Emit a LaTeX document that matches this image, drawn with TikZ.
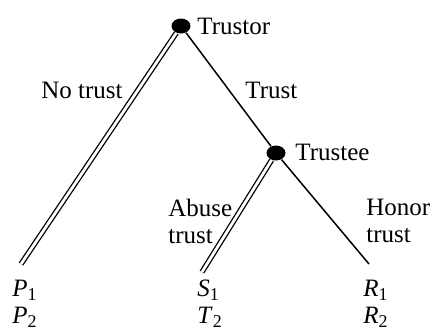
\documentclass[tikz,border=0pt]{standalone}
\usepackage{fontspec}
\setmainfont{Liberation Serif}
\usepackage{tikz}
\usetikzlibrary{shapes.geometric}
\tikzset{
  move dot/.style={
    ellipse,
    fill=black,
    inner sep=0pt,
    minimum width=9.5pt,
    minimum height=7.5pt
  },
  single move/.style={
    line width=0.75pt
  },
  double move/.style={
    double,
    line width=0.65pt,
    double distance=1.4pt
  },
  move label/.style={
    inner sep=0pt,
    font=\fontsize{12.5}{13.5}\selectfont
  },
  payoff label/.style={
    move label,
    align=left,
    anchor=north west
  }
}
\newcommand{\pay}[2]{\textit{#1}\raisebox{-0.35ex}{\fontsize{9}{9}\selectfont #2}}

\begin{document}
\begin{tikzpicture}[x=0.5pt, y=-0.5pt]
  \useasboundingbox (0,0) rectangle (434,334);

  %% ---- decision nodes ----
  \node[move dot] (trustor) at (181,26) {};
  \node[move dot] (trustee) at (276,153) {};
  \coordinate (endP) at (21,264);
  \coordinate (endS) at (202,272);
  \coordinate (endR) at (369,264);

  %% ---- branches ----
  \draw[double move] (trustor) -- (endP);
  \draw[single move] (trustor) -- (trustee);
  \draw[double move] (trustee) -- (endS);
  \draw[single move] (trustee) -- (endR);

  %% ---- player and move labels ----
  \node[move label, anchor=base west] (trustorname) at (197,34)  {Trustor};
  \node[move label, anchor=base west] (trusteename) at (295,160) {Trustee};
  \node[move label, anchor=base east] (notrust)     at (123,98)  {No trust};
  \node[move label, anchor=base west] (trust)       at (245,98)  {Trust};
  \node[move label, align=left, anchor=north west] (abuse) at (168,199) {Abuse\\trust};
  \node[move label, align=left, anchor=north west] (honor) at (366,199) {Honor\\trust};

  %% ---- payoffs ----
  \node[payoff label] (payP) at (12,280)  {\pay{P}{1}\\\pay{P}{2}};
  \node[payoff label] (payS) at (197,280) {\pay{S}{1}\\\pay{T}{2}};
  \node[payoff label] (payR) at (363,280) {\pay{R}{1}\\\pay{R}{2}};
\end{tikzpicture}
\end{document}
